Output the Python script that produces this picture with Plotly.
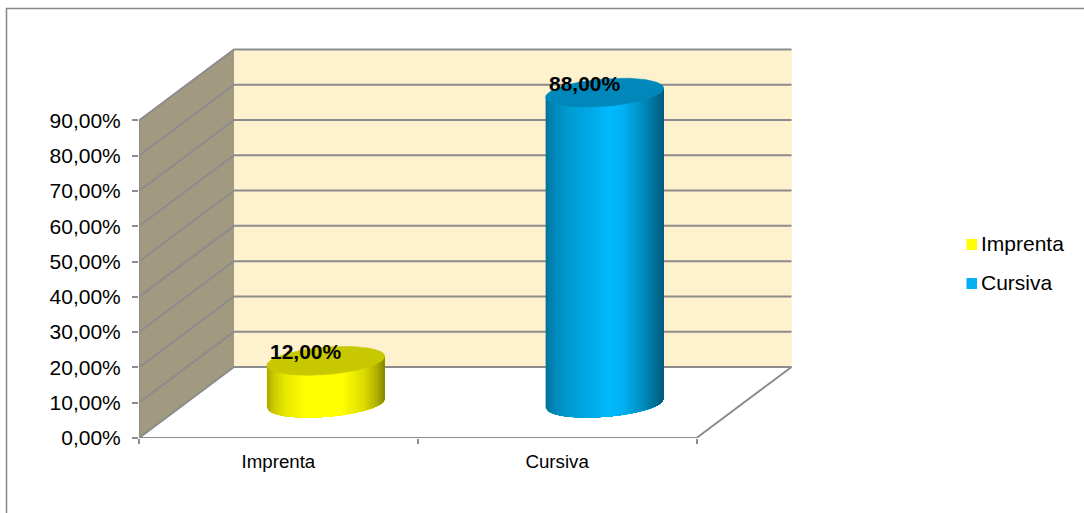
import numpy as np
import plotly.graph_objects as go

# ---- data
categories = ["Imprenta", "Cursiva"]
values = [12.0, 88.0]
value_labels = ["12,00%", "88,00%"]
y_ticks = [0, 10, 20, 30, 40, 50, 60, 70, 80, 90]
y_tick_labels = ["0,00%", "10,00%", "20,00%", "30,00%", "40,00%", "50,00%",
                 "60,00%", "70,00%", "80,00%", "90,00%"]

# ---- styles
W, H = 1084, 513
ML, MB = 139, 75
PX_X = 278.75   # pixels per category
PX_Y = 3.529    # pixels per percentage point
DEPTH_X = 95 / PX_X
DEPTH_Y = 71 / PX_Y
FONT = "Liberation Sans"
GRID = "#8c8c8c"
WALL = "#a29a80"
BACK = "#fef1cd"
stops = {
    "Imprenta": dict(top="#c8c800", legend="#ffff00",
                     grad=[(0, "#a8a800"), (.06, "#cccc00"), (.16, "#e8e800"), (.32, "#ffff00"),
                           (.64, "#ffff00"), (.82, "#dcdc00"), (.93, "#b0b000"), (1, "#858500")]),
    "Cursiva": dict(top="#0088bb", legend="#00b0f0",
                    grad=[(0, "#00709a"), (.07, "#0088b8"), (.20, "#009cd4"), (.42, "#00aeec"),
                          (.54, "#00bbff"), (.66, "#00b2f2"), (.84, "#0088b8"), (1, "#005a7c")]),
}


def hex_rgb(c):
    return np.array([int(c[i:i + 2], 16) for i in (1, 3, 5)], float)


def shade(grad, u):
    for (a, ca), (b, cb) in zip(grad, grad[1:]):
        if u <= b:
            t = (u - a) / (b - a)
            r = hex_rgb(ca) * (1 - t) + hex_rgb(cb) * t
            return "rgb(%d,%d,%d)" % tuple(r)
    return grad[-1][1]


fig = go.Figure()


def poly(x, y, color, width=0.6):
    fig.add_trace(go.Scatter(x=x, y=y, fill="toself", fillcolor=color, mode="lines",
                             line=dict(color=color, width=width), hoverinfo="skip",
                             showlegend=False, cliponaxis=False))


def line(x, y):
    fig.add_trace(go.Scatter(x=x, y=y, mode="lines", line=dict(color=GRID, width=2),
                             hoverinfo="skip", showlegend=False, cliponaxis=False))


n_cat = len(categories)
top_v = y_ticks[-1]

# walls
poly([0, DEPTH_X, DEPTH_X, 0], [0, DEPTH_Y, top_v + DEPTH_Y, top_v], WALL)
poly([DEPTH_X, n_cat + DEPTH_X, n_cat + DEPTH_X, DEPTH_X],
     [DEPTH_Y, DEPTH_Y, top_v + DEPTH_Y, top_v + DEPTH_Y], BACK)

# gridlines
for v in y_ticks:
    line([0, DEPTH_X, n_cat + DEPTH_X], [v, v + DEPTH_Y, v + DEPTH_Y])
# floor edges and axis lines
line([0, n_cat, n_cat + DEPTH_X], [0, 0, DEPTH_Y])
line([0, 0], [0, top_v])

# cylinders
RX = 59 / PX_X
A = 13.7 / PX_Y
TILT = 4.5 / PX_Y
BASE = DEPTH_Y / 2 - 0.2

for i, (cat, val) in enumerate(zip(categories, values)):
    cx = i + 0.5 + DEPTH_X / 2
    top = BASE + val
    style = stops[cat]
    # painted left to right, every strip reaching the right edge, so no seams show
    edges = np.linspace(-1, 1, 60)
    for k in range(len(edges) - 1):
        u = edges[k:]
        xs = cx + RX * u
        y_bottom = BASE - A * np.sqrt(np.clip(1 - u ** 2, 0, 1)) + TILT * u
        y_top = top + TILT * u
        color = shade(style["grad"], (k + 0.5) / (len(edges) - 1))
        poly(np.r_[xs, xs[::-1]], np.r_[y_bottom, y_top[::-1]], color, width=0)
    theta = np.linspace(0, 2 * np.pi, 90)
    ex = cx + RX * np.cos(theta)
    ey = top + A * np.sin(theta) + TILT * np.cos(theta)
    poly(ex, ey, style["top"])

# data labels
annotations = []
for i, (val, lab) in enumerate(zip(values, value_labels)):
    annotations.append(dict(x=i + 0.5 + DEPTH_X / 2, y=BASE + val, text="<b>%s</b>" % lab,
                            showarrow=False, xshift=-20, yshift=9,
                            font=dict(family=FONT, size=21, color="#000000")))

# legend
shapes = [dict(type="rect", xref="paper", yref="paper", x0=(6.5 - ML) / (W - ML), x1=1.2,
               y0=-0.3, y1=(H - MB - 8.5) / (H - MB), line=dict(color="#868686", width=1.5),
               fillcolor="rgba(0,0,0,0)", layer="below")]
for j, cat in enumerate(categories):
    yc = 244.5 + 39 * j
    yp = (H - MB - yc) / (H - MB)
    xp = lambda px: (px - ML) / (W - ML)
    shapes.append(dict(type="rect", xref="paper", yref="paper",
                       x0=xp(966.5), x1=xp(977), y0=yp - 5.5 / (H - MB), y1=yp + 5.5 / (H - MB),
                       fillcolor=stops[cat]["legend"], line=dict(width=0)))
    annotations.append(dict(xref="paper", yref="paper", x=xp(978.5), y=yp, yshift=1, text=cat,
                            xanchor="left", yanchor="middle", showarrow=False,
                            font=dict(family=FONT, size=21, color="#000000")))

fig.update_layout(
    width=W, height=H, margin=dict(l=ML, r=0, t=0, b=MB, pad=0), autosize=False,
    paper_bgcolor="white", plot_bgcolor="rgba(0,0,0,0)", showlegend=False,
    shapes=shapes, annotations=annotations,
    xaxis=dict(range=[0, (W - ML) / PX_X], showgrid=False, zeroline=False, showline=False,
               tickmode="array", tickvals=[i + 0.5 for i in range(n_cat)], ticktext=categories,
               ticks="", ticklabelstandoff=10,
               tickfont=dict(family=FONT, size=18.7, color="#000000"),
               minor=dict(tickmode="array", tickvals=list(range(n_cat + 1)), ticks="outside",
                          ticklen=5, tickwidth=1.5, tickcolor=GRID, showgrid=False)),
    yaxis=dict(range=[0, (H - MB) / PX_Y], showgrid=False, zeroline=False, showline=False,
               tickmode="array", tickvals=y_ticks, ticktext=y_tick_labels, ticks="outside",
               ticklen=6, tickwidth=1.5, tickcolor=GRID, ticklabelstandoff=7,
               tickfont=dict(family=FONT, size=21, color="#000000")),
)

fig.write_html("out.html", config=dict(displayModeBar=False),
               post_script="document.body.style.margin='0';document.body.style.overflow='hidden';")
